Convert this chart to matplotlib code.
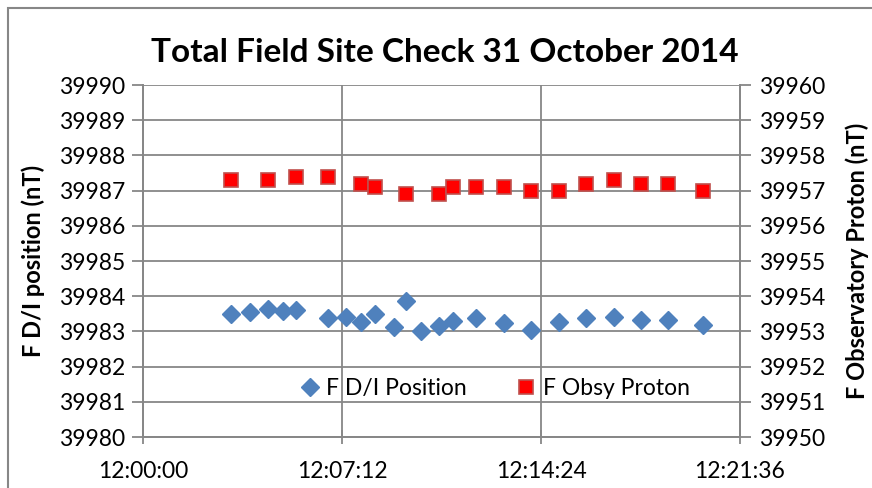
import matplotlib.pyplot as plt
from matplotlib.ticker import FuncFormatter, MultipleLocator
from matplotlib.patches import Rectangle

plt.rcParams['font.family'] = ['Lato', 'DejaVu Sans']

# F at the D/I pillar (left axis)
di_times = ['12:03:11', '12:03:52', '12:04:31', '12:05:04', '12:05:32',
            '12:06:42', '12:07:21', '12:07:53', '12:08:24', '12:09:05',
            '12:09:31', '12:10:04', '12:10:43', '12:11:13', '12:12:03',
            '12:13:04', '12:14:02', '12:15:03', '12:16:02', '12:17:03',
            '12:18:01', '12:19:00', '12:20:16']
di_values = [39983.49, 39983.55, 39983.64, 39983.58, 39983.61,
             39983.38, 39983.41, 39983.27, 39983.49, 39983.13,
             39983.86, 39983.01, 39983.15, 39983.30, 39983.38,
             39983.24, 39983.04, 39983.27, 39983.38, 39983.41,
             39983.32, 39983.32, 39983.18]

# observatory proton magnetometer (right axis)
obs_times = ['12:03:11', '12:04:31', '12:05:32', '12:06:42', '12:07:53',
             '12:08:24', '12:09:31', '12:10:43', '12:11:13', '12:12:03',
             '12:13:04', '12:14:02', '12:15:03', '12:16:02', '12:17:03',
             '12:18:01', '12:19:00', '12:20:16']
obs_values = [39957.3, 39957.3, 39957.4, 39957.4, 39957.2,
              39957.1, 39956.9, 39956.9, 39957.1, 39957.1,
              39957.1, 39957.0, 39957.0, 39957.2, 39957.3,
              39957.2, 39957.2, 39957.0]


def to_sec(t):
    h, m, s = (int(p) for p in t.split(':'))
    return (h - 12) * 3600 + m * 60 + s


def fmt_time(x, pos):
    x = int(round(x))
    return '%d:%02d:%02d' % (12 + x // 3600, (x % 3600) // 60, x % 60)


grid_col = '#878787'

fig = plt.figure(figsize=(8.72, 4.88), dpi=100)
ax = fig.add_axes([143 / 872, 1 - 437 / 488, 597 / 872, 352 / 488])
ax2 = ax.twinx()

# outer chart border
fig.patches.append(Rectangle((8 / 872, -0.1), 1.2, 1 - 8 / 488 + 0.1,
                             transform=fig.transFigure, fill=False,
                             edgecolor=grid_col, lw=1.5))

h1, = ax.plot([to_sec(t) for t in di_times], di_values, ls='none', marker='D',
              ms=9.5, color='#4F81BD', mec='#4F81BD', label='F D/I Position', zorder=3)
h2, = ax2.plot([to_sec(t) for t in obs_times], obs_values, ls='none', marker='s',
               ms=9.5, color='#FF0000', mec='#C0504D', mew=1.2, label='F Obsy Proton', zorder=3)

ax.set_xlim(0, 1296)
ax.set_ylim(39980, 39990)
ax2.set_ylim(39950, 39960)
ax.xaxis.set_major_locator(MultipleLocator(432))
ax.xaxis.set_major_formatter(FuncFormatter(fmt_time))
ax.yaxis.set_major_locator(MultipleLocator(1))
ax2.yaxis.set_major_locator(MultipleLocator(1))
ax.yaxis.set_major_formatter(FuncFormatter(lambda v, p: '%d' % v))
ax2.yaxis.set_major_formatter(FuncFormatter(lambda v, p: '%d' % v))

ax.grid(True, color=grid_col, lw=1.3)
ax.set_axisbelow(True)
for a in (ax, ax2):
    a.spines['top'].set_visible(False)
    for s in ('left', 'right', 'bottom'):
        a.spines[s].set_color(grid_col)
        a.spines[s].set_linewidth(1.3)
ax.tick_params(axis='y', direction='out', length=8, width=1.3, color=grid_col,
               labelsize=16.5, pad=5)
ax2.tick_params(axis='y', direction='out', length=8, width=1.3, color=grid_col,
                labelsize=16.5, pad=6)
ax.tick_params(axis='x', direction='inout', length=10, width=1.3, color=grid_col,
               labelsize=16.5, pad=12)

ax.set_ylabel('F D/I position (nT)', fontsize=17, fontweight='bold', labelpad=10)
ax2.set_ylabel('F Observatory Proton (nT)', fontsize=17, fontweight='bold',
               rotation=90, labelpad=14)
fig.text(445 / 872, 1 - 52 / 488, 'Total Field Site Check 31 October 2014',
         ha='center', va='center', fontsize=24, fontweight='bold')

ax.legend(handles=[h1, h2], loc='center', bbox_to_anchor=(0.59, 0.139), ncol=2,
          frameon=False, fontsize=16.5, handlelength=0.8, handletextpad=0.3,
          columnspacing=2.2)

fig.savefig('out.png', dpi=100)
